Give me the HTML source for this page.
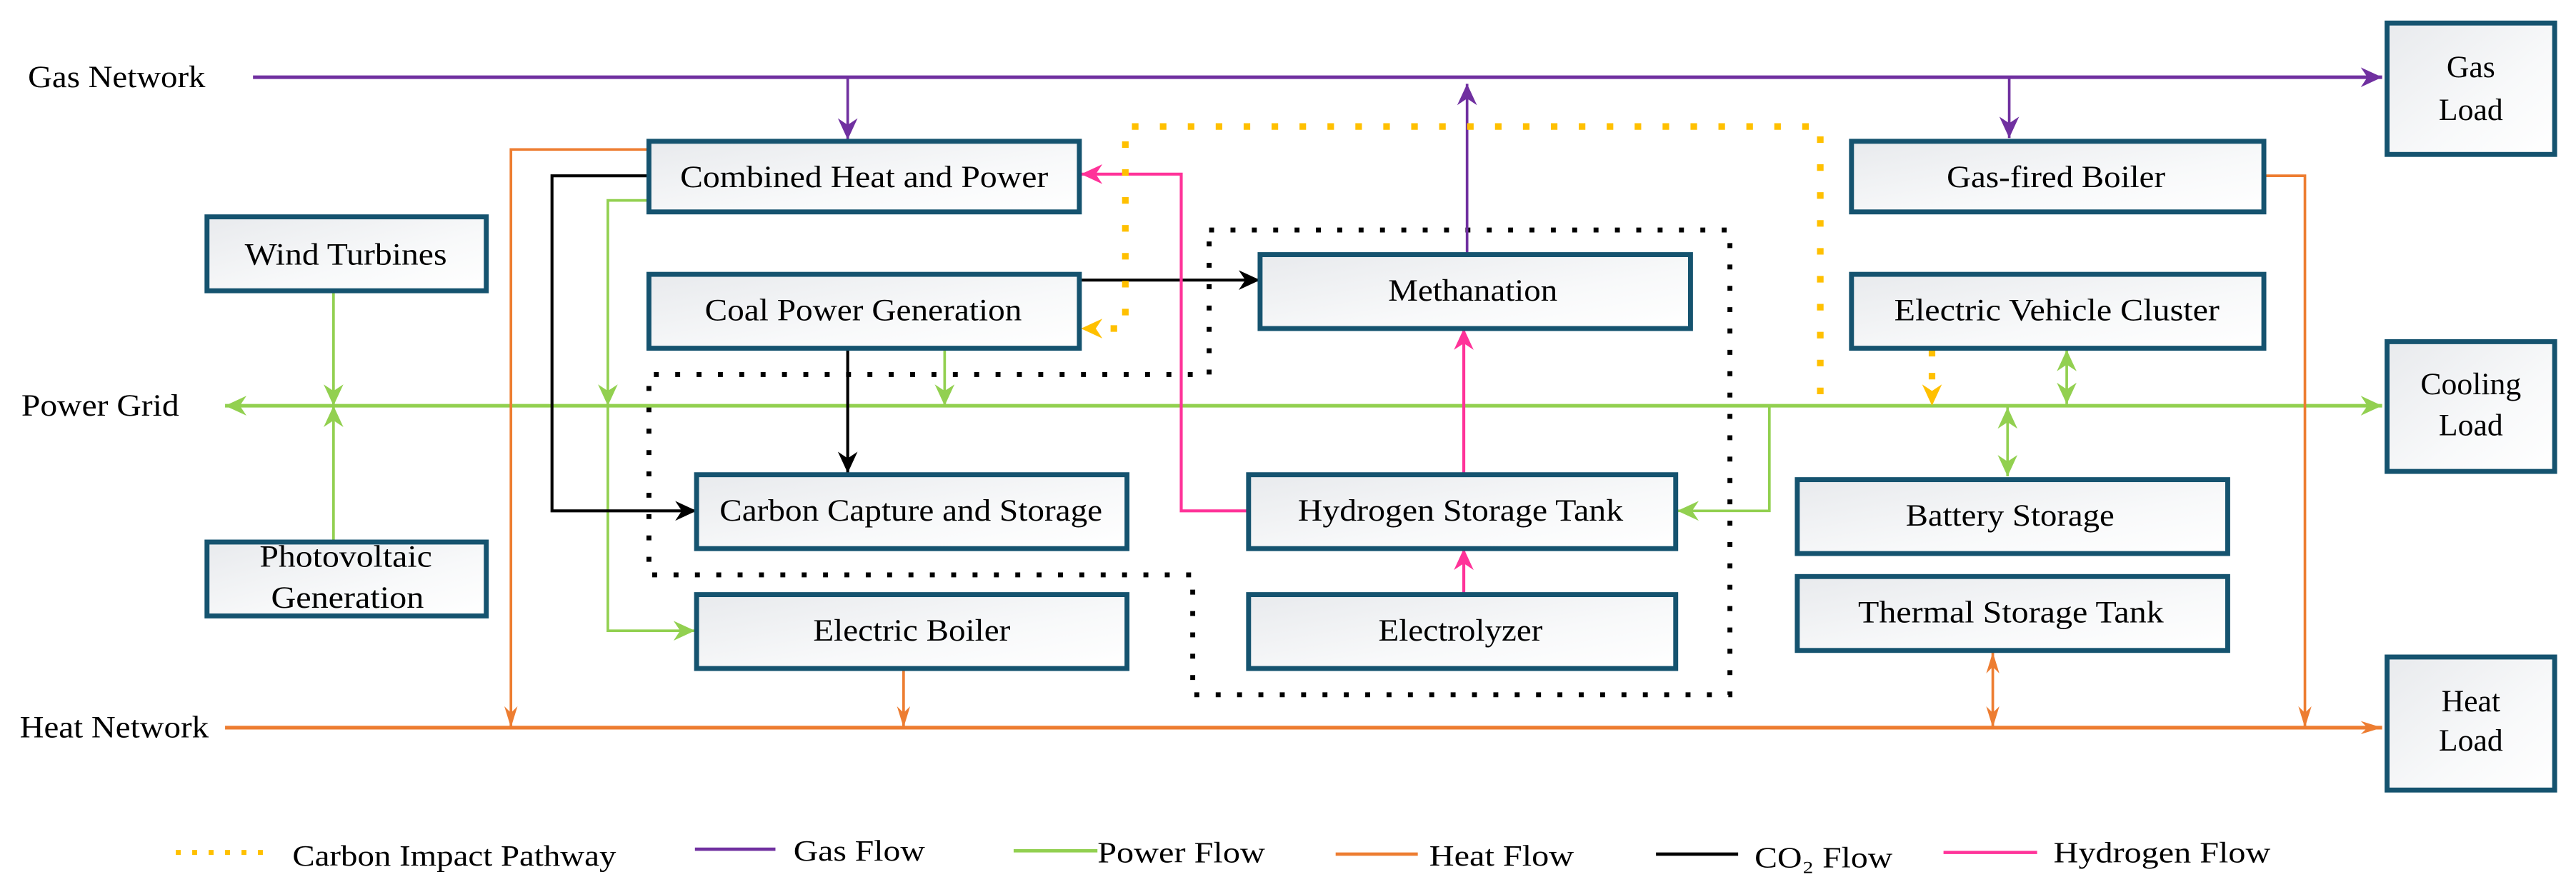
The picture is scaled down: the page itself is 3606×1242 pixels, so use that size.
<!DOCTYPE html>
<html><head><meta charset="utf-8"><style>
html,body{margin:0;padding:0;background:#fff;}
svg{display:block;}
text{font-family:"Liberation Serif",serif;fill:#000;}
</style></head><body>
<svg width="3606" height="1242" viewBox="0 0 1568 540" xmlns="http://www.w3.org/2000/svg">
<defs>
<linearGradient id="g" x1="0" y1="0" x2="1" y2="1">
<stop offset="0" stop-color="#e8eaed"/><stop offset="0.6" stop-color="#f8f9fa"/><stop offset="1" stop-color="#ffffff"/>
</linearGradient>
<marker id="ap" viewBox="-14 -7 16 14" refX="0" refY="0" markerWidth="16" markerHeight="14" markerUnits="userSpaceOnUse" orient="auto-start-reverse"><path d="M0,0 L-13,-6 L-9,0 L-13,6 Z" fill="#7030a0"/></marker>
<marker id="ag" viewBox="-14 -7 16 14" refX="0" refY="0" markerWidth="16" markerHeight="14" markerUnits="userSpaceOnUse" orient="auto-start-reverse"><path d="M0,0 L-13,-6 L-9,0 L-13,6 Z" fill="#92d050"/></marker>
<marker id="ao" viewBox="-14 -7 16 14" refX="0" refY="0" markerWidth="16" markerHeight="14" markerUnits="userSpaceOnUse" orient="auto-start-reverse"><path d="M0,0 L-13,-4 L-9,0 L-13,4 Z" fill="#ed7d31"/></marker>
<marker id="ak" viewBox="-14 -7 16 14" refX="0" refY="0" markerWidth="16" markerHeight="14" markerUnits="userSpaceOnUse" orient="auto-start-reverse"><path d="M0,0 L-13,-6 L-9,0 L-13,6 Z" fill="#000"/></marker>
<marker id="ah" viewBox="-14 -7 16 14" refX="0" refY="0" markerWidth="16" markerHeight="14" markerUnits="userSpaceOnUse" orient="auto-start-reverse"><path d="M0,0 L-13,-6 L-9,0 L-13,6 Z" fill="#ff3399"/></marker>
<marker id="ay" viewBox="-14 -7 16 14" refX="0" refY="0" markerWidth="16" markerHeight="14" markerUnits="userSpaceOnUse" orient="auto-start-reverse"><path d="M0,0 L-13,-6 L-9,0 L-13,6 Z" fill="#ffc000"/></marker>
</defs>

<path d="M736,140 H1053 V423 H726 V350 H395 V228 H736 Z" fill="none" stroke="#000" stroke-width="3" stroke-dasharray="3 10"/>

<path d="M154,47 H1450" stroke="#7030a0" stroke-width="2.2" fill="none" marker-end="url(#ap)"/>
<path d="M137,247 H1450" stroke="#92d050" stroke-width="2.2" fill="none" marker-start="url(#ag)" marker-end="url(#ag)"/>
<path d="M137,443 H1450" stroke="#ed7d31" stroke-width="2.3" fill="none" marker-end="url(#ao)"/>

<path d="M516,47 V85" stroke="#7030a0" stroke-width="1.6" fill="none" marker-end="url(#ap)"/>
<path d="M1223,47 V84" stroke="#7030a0" stroke-width="1.6" fill="none" marker-end="url(#ap)"/>
<path d="M893,154 V51" stroke="#7030a0" stroke-width="1.6" fill="none" marker-end="url(#ap)"/>

<path d="M203,177 V247" stroke="#92d050" stroke-width="1.6" fill="none" marker-end="url(#ag)"/>
<path d="M203,329 V247" stroke="#92d050" stroke-width="1.6" fill="none" marker-end="url(#ag)"/>
<path d="M395,122 H370 V247" stroke="#92d050" stroke-width="1.6" fill="none" marker-end="url(#ag)"/>
<path d="M370,247 V384 H423" stroke="#92d050" stroke-width="1.6" fill="none" marker-end="url(#ag)"/>
<path d="M575,212 V247" stroke="#92d050" stroke-width="1.6" fill="none" marker-end="url(#ag)"/>
<path d="M1077,247 V311 H1021" stroke="#92d050" stroke-width="1.6" fill="none" marker-end="url(#ag)"/>
<path d="M1258,213 V246" stroke="#92d050" stroke-width="1.6" fill="none" marker-start="url(#ag)" marker-end="url(#ag)"/>
<path d="M1222,248 V290" stroke="#92d050" stroke-width="1.6" fill="none" marker-start="url(#ag)" marker-end="url(#ag)"/>

<path d="M516,212 V288" stroke="#000" stroke-width="1.8" fill="none" marker-end="url(#ak)"/>
<path d="M657,170.5 H767" stroke="#000" stroke-width="1.8" fill="none" marker-end="url(#ak)"/>
<path d="M395,107 H336 V311 H424" stroke="#000" stroke-width="1.8" fill="none" marker-end="url(#ak)"/>

<path d="M395,91 H311 V443" stroke="#ed7d31" stroke-width="1.6" fill="none" marker-end="url(#ao)"/>
<path d="M550,407 V443" stroke="#ed7d31" stroke-width="1.6" fill="none" marker-end="url(#ao)"/>
<path d="M1378,107 H1403 V443" stroke="#ed7d31" stroke-width="1.6" fill="none" marker-end="url(#ao)"/>
<path d="M1213,397 V443" stroke="#ed7d31" stroke-width="1.6" fill="none" marker-start="url(#ao)" marker-end="url(#ao)"/>

<path d="M760,311 H719 V106 H658" stroke="#ff3399" stroke-width="1.8" fill="none" marker-end="url(#ah)"/>
<path d="M891,288 V200" stroke="#ff3399" stroke-width="1.8" fill="none" marker-end="url(#ah)"/>
<path d="M891,361 V334" stroke="#ff3399" stroke-width="1.8" fill="none" marker-end="url(#ah)"/>

<path d="M1108,240 V77 H685 V200 H676" stroke="#ffc000" stroke-width="4" fill="none" stroke-dasharray="4 13"/>
<path d="M672,200 H658" stroke="none" fill="none" marker-end="url(#ay)"/>
<path d="M1176,213 V232" stroke="#ffc000" stroke-width="4" fill="none" stroke-dasharray="4 10"/>
<path d="M1176,234 V247" stroke="none" fill="none" marker-end="url(#ay)"/>

<g fill="url(#g)" stroke="#15536f" stroke-width="3">
<rect x="395" y="86" width="262" height="43"/>
<rect x="126" y="132" width="170" height="45"/>
<rect x="126" y="330" width="170" height="45"/>
<rect x="395" y="167" width="262" height="45"/>
<rect x="424" y="289" width="262" height="45"/>
<rect x="424" y="362" width="262" height="45"/>
<rect x="767" y="155" width="262" height="45"/>
<rect x="760" y="289" width="260" height="45"/>
<rect x="760" y="362" width="260" height="45"/>
<rect x="1127" y="86" width="251" height="43"/>
<rect x="1127" y="167" width="251" height="45"/>
<rect x="1094" y="292" width="262" height="45"/>
<rect x="1094" y="351" width="262" height="45"/>
<rect x="1453" y="14" width="102" height="80"/>
<rect x="1453" y="208" width="102" height="79"/>
<rect x="1453" y="400" width="102" height="81"/>
</g>

<g font-size="19">
<text x="17" y="53" textLength="108" lengthAdjust="spacingAndGlyphs">Gas Network</text>
<text x="13" y="253" textLength="96" lengthAdjust="spacingAndGlyphs">Power Grid</text>
<text x="12" y="449" textLength="115" lengthAdjust="spacingAndGlyphs">Heat Network</text>
<text x="414" y="114" textLength="224" lengthAdjust="spacingAndGlyphs">Combined Heat and Power</text>
<text x="149" y="161" textLength="123" lengthAdjust="spacingAndGlyphs">Wind Turbines</text>
<text x="429" y="195" textLength="193" lengthAdjust="spacingAndGlyphs">Coal Power Generation</text>
<text x="438" y="317" textLength="233" lengthAdjust="spacingAndGlyphs">Carbon Capture and Storage</text>
<text x="158" y="345" textLength="105" lengthAdjust="spacingAndGlyphs">Photovoltaic</text>
<text x="165" y="370" textLength="93" lengthAdjust="spacingAndGlyphs">Generation</text>
<text x="495" y="390" textLength="120" lengthAdjust="spacingAndGlyphs">Electric Boiler</text>
<text x="845" y="183" textLength="103" lengthAdjust="spacingAndGlyphs">Methanation</text>
<text x="790" y="317" textLength="198" lengthAdjust="spacingAndGlyphs">Hydrogen Storage Tank</text>
<text x="839" y="390" textLength="100" lengthAdjust="spacingAndGlyphs">Electrolyzer</text>
<text x="1185" y="114" textLength="133" lengthAdjust="spacingAndGlyphs">Gas-fired Boiler</text>
<text x="1153" y="195" textLength="198" lengthAdjust="spacingAndGlyphs">Electric Vehicle Cluster</text>
<text x="1160" y="320" textLength="127" lengthAdjust="spacingAndGlyphs">Battery Storage</text>
<text x="1131" y="379" textLength="186" lengthAdjust="spacingAndGlyphs">Thermal Storage Tank</text>
<text x="1504" y="47" text-anchor="middle">Gas</text>
<text x="1504" y="73" text-anchor="middle">Load</text>
<text x="1504" y="240" text-anchor="middle">Cooling</text>
<text x="1504" y="265" text-anchor="middle">Load</text>
<text x="1504" y="433" text-anchor="middle">Heat</text>
<text x="1504" y="457" text-anchor="middle">Load</text>
</g>

<path d="M107,519 H162" stroke="#ffc000" stroke-width="3" stroke-dasharray="3 7"/>
<path d="M423,517 H472" stroke="#7030a0" stroke-width="2"/>
<path d="M617,518 H668" stroke="#92d050" stroke-width="2"/>
<path d="M813,520 H863" stroke="#ed7d31" stroke-width="2"/>
<path d="M1008,520 H1058" stroke="#000" stroke-width="2"/>
<path d="M1183,519 H1240" stroke="#ff3399" stroke-width="2"/>
<g font-size="18">
<text x="178" y="527" textLength="197" lengthAdjust="spacingAndGlyphs">Carbon Impact Pathway</text>
<text x="483" y="524" textLength="80" lengthAdjust="spacingAndGlyphs">Gas Flow</text>
<text x="668" y="525" textLength="102" lengthAdjust="spacingAndGlyphs">Power Flow</text>
<text x="870" y="527" textLength="88" lengthAdjust="spacingAndGlyphs">Heat Flow</text>
<text x="1068" y="528" textLength="84" lengthAdjust="spacingAndGlyphs">CO₂ Flow</text>
<text x="1250" y="525" textLength="132" lengthAdjust="spacingAndGlyphs">Hydrogen Flow</text>
</g>
</svg>
</body></html>
